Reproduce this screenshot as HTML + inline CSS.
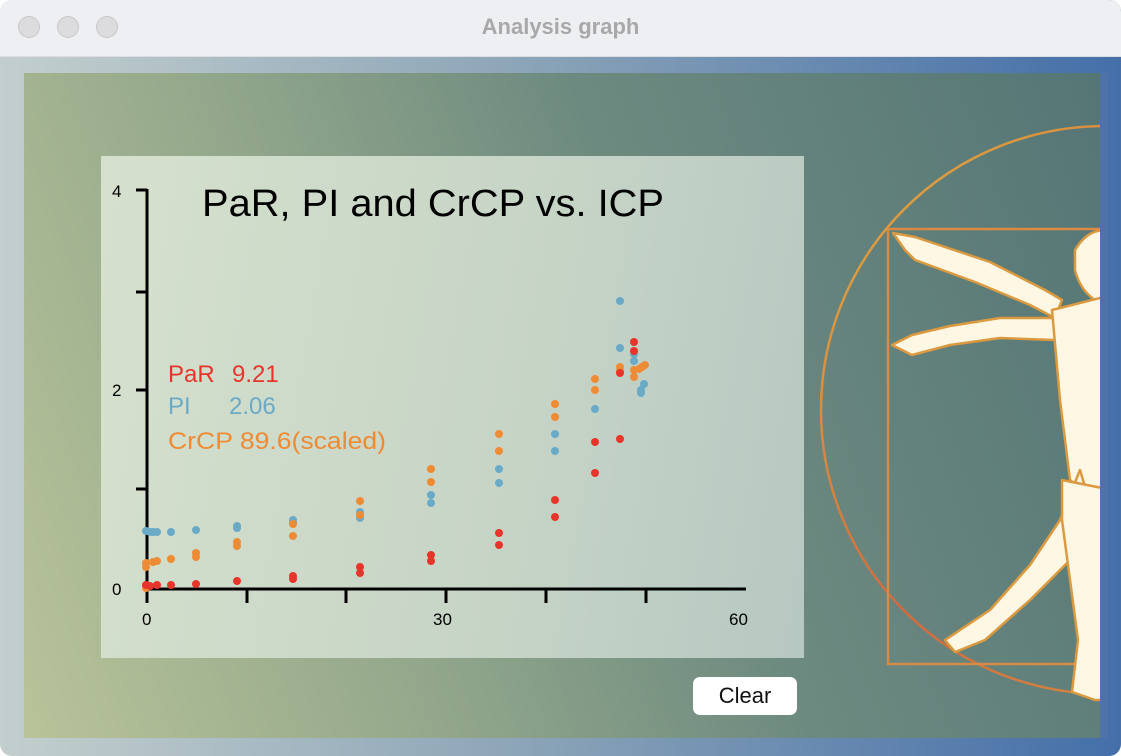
<!DOCTYPE html>
<html><head><meta charset="utf-8"><style>
body{margin:0;width:1121px;height:756px;overflow:hidden;background:#fff;font-family:"Liberation Sans",sans-serif}
.win{position:absolute;left:0;top:0;width:1121px;height:756px;border-radius:12px;overflow:hidden;background:linear-gradient(90deg,#c3cfce 0%,#8ea6b8 45%,#446fa9 100%)}
.tb{position:absolute;left:0;top:0;width:1121px;height:56px;background:#eeeff2;border-bottom:1px solid #dcdde0}
.dot{position:absolute;top:16px;width:22px;height:22px;border-radius:50%;background:#dcdcde;border:1px solid #c8c8cb;box-sizing:border-box}
.title{position:absolute;top:14px;left:0;width:1121px;text-align:center;font-weight:bold;font-size:22px;color:#a8a8aa}
.inner{position:absolute;left:24px;top:73px;width:1076px;height:665px;background:linear-gradient(70deg,#b8c399 0%,#95a98c 30%,#6d8a80 60%,#557676 100%)}
.plot{position:absolute;left:101px;top:156px;width:703px;height:502px;background:linear-gradient(100deg,#d6e1cd 0%,#c6d4c6 60%,#b6c8c2 100%)}
.btn{position:absolute;left:693px;top:677px;width:104px;height:38px;background:#fff;border-radius:7px;font-size:22px;text-align:center;line-height:38px;color:#111}
</style></head><body>
<div class="win">
<div class="tb"><div class="dot" style="left:18px"></div><div class="dot" style="left:57px"></div><div class="dot" style="left:96px"></div><div class="title">Analysis graph</div></div>
<div class="inner"></div>
<div class="plot"></div>
<svg width="1121" height="756" style="position:absolute;left:0;top:0">
<defs><clipPath id="c"><rect x="24" y="73" width="1084" height="665"/></clipPath>
<linearGradient id="g" x1="0" y1="0" x2="1" y2="1"><stop offset="0" stop-color="#e0b040"/><stop offset="0.5" stop-color="#d06a40"/><stop offset="1" stop-color="#d8a040"/></linearGradient></defs>
<g clip-path="url(#c)">
<circle cx="1105" cy="410" r="284" fill="none" stroke="url(#g)" stroke-width="2.5"/>
<rect x="888" y="229" width="260" height="435" fill="none" stroke="#d98a45" stroke-width="2.5"/>
<g fill="#fdf7e4" stroke="#dc9a40" stroke-width="2.5" stroke-linejoin="round">
<path d="M893,233 L915,237 L990,262 L1045,290 L1062,300 L1055,318 L1030,305 L975,282 L915,260 L905,250 Z"/>
<path d="M892,345 L912,335 L950,326 L1000,318 L1055,318 L1055,340 L1000,338 L950,345 L912,355 Z"/>
<path d="M1075,250 Q1090,225 1112,232 L1112,300 L1095,300 Q1080,290 1075,270 Z"/>
<path d="M1052,310 L1112,295 L1112,480 L1090,495 L1070,480 L1060,400 Z"/>
<path d="M1080,470 L1060,520 L1030,565 L990,610 L945,640 L955,652 L985,640 L1030,600 L1070,560 L1095,520 Z"/>
<path d="M1062,480 L1112,490 L1112,700 L1095,700 L1072,692 L1078,640 L1070,580 L1062,520 Z"/>
</g>
<rect x="1100" y="56" width="21" height="700" fill="#4f73a8"/>
</g>
<g stroke="#000" stroke-width="3" fill="none">
<line x1="147" y1="189" x2="147" y2="591"/><line x1="145" y1="589" x2="746" y2="589"/>
<line x1="136" y1="190" x2="147" y2="190"/><line x1="136" y1="292" x2="147" y2="292"/><line x1="136" y1="390" x2="147" y2="390"/><line x1="136" y1="489" x2="147" y2="489"/>
<line x1="147" y1="589" x2="147" y2="603"/><line x1="247" y1="589" x2="247" y2="603"/><line x1="346" y1="589" x2="346" y2="603"/><line x1="446" y1="589" x2="446" y2="603"/><line x1="546" y1="589" x2="546" y2="603"/><line x1="646" y1="589" x2="646" y2="603"/>
</g>
<g font-size="17" fill="#000"><text x="112" y="197">4</text><text x="112" y="396">2</text><text x="112" y="595">0</text>
<text x="142" y="625">0</text><text x="433" y="625">30</text><text x="729" y="625">60</text></g>
<text x="202" y="216" font-size="38" fill="#000" textLength="462" lengthAdjust="spacingAndGlyphs">PaR, PI and CrCP vs. ICP</text>
<g font-size="24">
<text x="168" y="382" fill="#e8352b">PaR</text><text x="232" y="382" fill="#e8352b">9.21</text>
<text x="168" y="414" fill="#6aaac7">PI</text><text x="229" y="414" fill="#6aaac7">2.06</text>
<text x="168" y="449" fill="#ee8b35" textLength="218" lengthAdjust="spacingAndGlyphs">CrCP 89.6(scaled)</text>
</g>
<g fill="#6aaac7">
<circle cx="146" cy="531" r="4"/><circle cx="150" cy="532" r="4"/><circle cx="153" cy="532" r="4"/><circle cx="157" cy="532" r="4"/><circle cx="171" cy="532" r="4"/><circle cx="196" cy="530" r="4"/><circle cx="237" cy="526" r="4"/><circle cx="237" cy="528" r="4"/><circle cx="293" cy="520" r="4"/><circle cx="293" cy="523" r="4"/><circle cx="360" cy="512" r="4"/><circle cx="360" cy="518" r="4"/><circle cx="431" cy="495" r="4"/><circle cx="431" cy="503" r="4"/><circle cx="499" cy="469" r="4"/><circle cx="499" cy="483" r="4"/><circle cx="555" cy="434" r="4"/><circle cx="555" cy="451" r="4"/><circle cx="595" cy="409" r="4"/><circle cx="620" cy="301" r="4"/><circle cx="620" cy="348" r="4"/><circle cx="634" cy="354" r="4"/><circle cx="634" cy="361" r="4"/><circle cx="641" cy="390" r="4"/><circle cx="641" cy="393" r="4"/><circle cx="644" cy="384" r="4"/>
</g>
<g fill="#ee8b35">
<circle cx="146" cy="563" r="4"/><circle cx="146" cy="567" r="4"/><circle cx="153" cy="562" r="4"/><circle cx="157" cy="561" r="4"/><circle cx="171" cy="559" r="4"/><circle cx="196" cy="553" r="4"/><circle cx="196" cy="557" r="4"/><circle cx="237" cy="542" r="4"/><circle cx="237" cy="546" r="4"/><circle cx="293" cy="524" r="4"/><circle cx="293" cy="536" r="4"/><circle cx="360" cy="501" r="4"/><circle cx="360" cy="515" r="4"/><circle cx="431" cy="469" r="4"/><circle cx="431" cy="482" r="4"/><circle cx="499" cy="434" r="4"/><circle cx="499" cy="451" r="4"/><circle cx="555" cy="404" r="4"/><circle cx="555" cy="417" r="4"/><circle cx="595" cy="379" r="4"/><circle cx="595" cy="390" r="4"/><circle cx="620" cy="367" r="4"/><circle cx="620" cy="371" r="4"/><circle cx="634" cy="370" r="4"/><circle cx="634" cy="377" r="4"/><circle cx="639" cy="369" r="4"/><circle cx="642" cy="367" r="4"/><circle cx="645" cy="365" r="4"/><circle cx="146" cy="588" r="4"/>
</g>
<g fill="#e8352b">
<circle cx="146" cy="585" r="4"/><circle cx="150" cy="586" r="4"/><circle cx="157" cy="585" r="4"/><circle cx="171" cy="585" r="4"/><circle cx="196" cy="584" r="4"/><circle cx="237" cy="581" r="4"/><circle cx="293" cy="576" r="4"/><circle cx="293" cy="579" r="4"/><circle cx="360" cy="567" r="4"/><circle cx="360" cy="573" r="4"/><circle cx="431" cy="555" r="4"/><circle cx="431" cy="561" r="4"/><circle cx="499" cy="533" r="4"/><circle cx="499" cy="545" r="4"/><circle cx="555" cy="500" r="4"/><circle cx="555" cy="517" r="4"/><circle cx="595" cy="442" r="4"/><circle cx="595" cy="473" r="4"/><circle cx="620" cy="373" r="4"/><circle cx="620" cy="439" r="4"/><circle cx="634" cy="342" r="4"/><circle cx="634" cy="351" r="4"/>
</g>
</svg>
<div class="btn">Clear</div>
</div>
</body></html>
